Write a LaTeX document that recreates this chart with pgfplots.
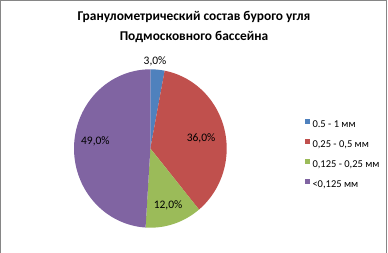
\documentclass[border=0pt]{standalone}
\usepackage{fontspec}
\setmainfont{Carlito}
\usepackage{pgfplots}
\pgfplotsset{compat=1.18}
\definecolor{sA}{HTML}{4F81BD}
\definecolor{sB}{HTML}{C0504D}
\definecolor{sC}{HTML}{9BBB59}
\definecolor{sD}{HTML}{8064A2}
\definecolor{frame}{HTML}{868686}
\begin{document}
\begin{tikzpicture}
\useasboundingbox (0bp,0bp) rectangle (388bp,253bp);
\draw[color=frame, line width=1bp] (0.5bp,-2bp) -- (0.5bp,252.5bp) -- (386.5bp,252.5bp) -- (386.5bp,-2bp);
\node[font=\fontsize{13.4bp}{15bp}\selectfont\bfseries, anchor=base, inner sep=0pt] at (194bp,232.3bp) {Гранулометрический состав бурого угля};
\node[font=\fontsize{13.4bp}{15bp}\selectfont\bfseries, anchor=base, inner sep=0pt] at (194bp,212.7bp) {Подмосковного бассейна};
\begin{axis}[
  at={(74bp,25.3bp)}, anchor=south west,
  scale only axis, width=152.7bp, height=158.4bp,
  xmin=-1, xmax=1, ymin=-1, ymax=1,
  hide axis, clip=false,
  legend image code/.code={\fill[#1] (0bp,0.8bp) rectangle (5bp,5.8bp);},
  legend style={draw=none, fill=none, inner sep=0pt, outer sep=0pt,
    at={(axis description cs:1.5128,0.688)}, anchor=north west,
    font=\fontsize{10.5bp}{12bp}\selectfont,
    nodes={inner sep=0pt, text height=7bp, text depth=2bp},
    row sep=9.7bp, column sep=2.5bp},
  legend cell align=left,
]
\addplot[fill=sA, draw=none, domain=0:3, samples=10] ({cos(90-3.6*x)},{sin(90-3.6*x)}) -- (axis cs:0,0) -- cycle;
\addlegendentry{0.5 - 1 мм}
\addplot[fill=sB, draw=none, domain=3:39, samples=60] ({cos(90-3.6*x)},{sin(90-3.6*x)}) -- (axis cs:0,0) -- cycle;
\addlegendentry{0,25 - 0,5 мм}
\addplot[fill=sC, draw=none, domain=39:51, samples=25] ({cos(90-3.6*x)},{sin(90-3.6*x)}) -- (axis cs:0,0) -- cycle;
\addlegendentry{0,125 - 0,25 мм}
\addplot[fill=sD, draw=none, domain=51:100, samples=80] ({cos(90-3.6*x)},{sin(90-3.6*x)}) -- (axis cs:0,0) -- cycle;
\addlegendentry{<0,125 мм}
\node[font=\fontsize{11.5bp}{13bp}\selectfont] at (axis cs:0.062,1.096) {3,0\%};
\node[font=\fontsize{11.5bp}{13bp}\selectfont] at (axis cs:0.664,0.133) {36,0\%};
\node[font=\fontsize{11.5bp}{13bp}\selectfont] at (axis cs:0.232,-0.713) {12,0\%};
\node[font=\fontsize{11.5bp}{13bp}\selectfont] at (axis cs:-0.72,0.086) {49,0\%};
\end{axis}
\end{tikzpicture}
\end{document}
